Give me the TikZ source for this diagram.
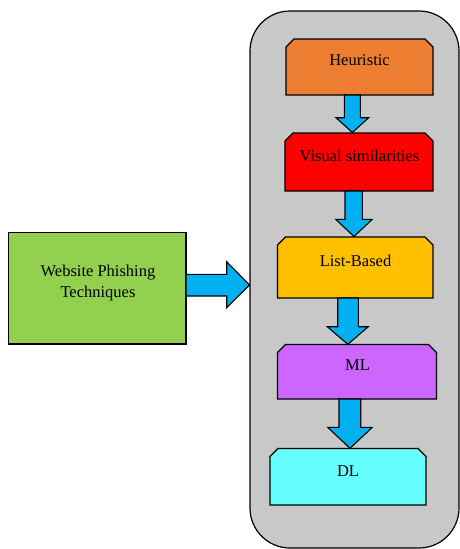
\documentclass[tikz,border=0pt]{standalone}
\usepackage{fontspec}
\setmainfont{Liberation Serif}
\definecolor{panelgray}{HTML}{C8C8C8}
\definecolor{heurcol}{HTML}{ED7D31}
\definecolor{viscol}{HTML}{FF0000}
\definecolor{listcol}{HTML}{FFC000}
\definecolor{mlcol}{HTML}{CC66FF}
\definecolor{dlcol}{HTML}{66FFFF}
\definecolor{webcol}{HTML}{92D050}
\definecolor{arrowcol}{HTML}{00B0F0}
\newcommand{\chambox}[5]{%
  \draw[boxline,fill=#5] (#1,#4) -- (#1,#2+8) -- (#1+8,#2) -- (#3-8,#2) -- (#3,#2+8) -- (#3,#4) -- cycle;}
\newcommand{\blockdown}[7]{% x-shaft-l, x-shaft-r, x-head-l, x-head-r, y-top, y-base, y-tip
  \draw[blockarrow] (#1,#5) -- (#2,#5) -- (#2,#6) -- (#4,#6) -- ({(#3+#4)/2},#7) -- (#3,#6) -- (#1,#6) -- cycle;}
\begin{document}
\begin{tikzpicture}[x=1pt,y=-1pt,
  boxline/.style={draw=black,line width=1.2pt,line join=miter},
  blockarrow/.style={draw=black,fill=arrowcol,line width=1.1pt,line join=miter},
  lbl/.style={anchor=base,inner sep=0pt,font=\fontsize{16.5}{21}\selectfont}]
\useasboundingbox (0,0) rectangle (460,549);
% panel
\draw[boxline,fill=panelgray,rounded corners=40pt] (250,11) rectangle (459,548);
% boxes
\chambox{286}{39}{433}{95}{heurcol}
\chambox{285}{133}{433}{191}{viscol}
\chambox{277.5}{237}{433}{298}{listcol}
\chambox{277.5}{344.5}{436.5}{399}{mlcol}
\chambox{270}{448.5}{426}{505}{dlcol}
\draw[boxline,fill=webcol] (8.5,232.5) rectangle (186,344);
% labels
\node[lbl] (heur) at (359.5,65.5) {Heuristic};
\node[lbl] (vis) at (359.5,161) {Visual similarities};
\node[lbl] (list) at (355.5,266) {List-Based};
\node[lbl] (ml) at (357.5,370) {ML};
\node[lbl] (dl) at (348,476) {DL};
\node[lbl,align=center] (web) at (98,297.7) {Website Phishing\\Techniques};
% arrows
\blockdown{344.3}{360.3}{336}{368.7}{95}{117.7}{132.5}
\blockdown{345}{362.3}{335.7}{372.3}{191}{219.3}{236.5}
\blockdown{337.7}{358.3}{327.3}{368.3}{298}{326.7}{344.3}
\blockdown{339}{360.7}{327.7}{372.3}{399}{427.3}{448.3}
\draw[blockarrow] (186,274.3) -- (226.7,274.3) -- (226.7,261.7) -- (249.5,285) -- (226.7,307.7) -- (226.7,296) -- (186,296) -- cycle;
\end{tikzpicture}
\end{document}
